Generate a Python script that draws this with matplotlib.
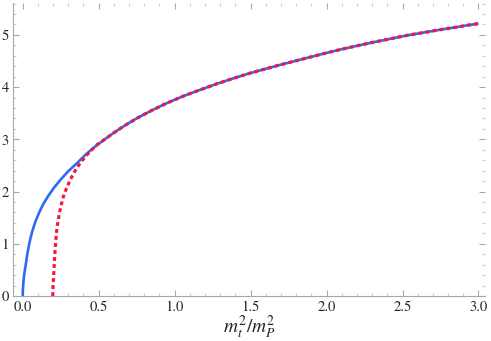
import numpy as np
import matplotlib
matplotlib.use('Agg')
import matplotlib.pyplot as plt
from matplotlib.ticker import MultipleLocator

# values
blue_x = [0.0, 0.001, 0.004, 0.01, 0.016, 0.022, 0.029, 0.037, 0.048, 0.063,
          0.083, 0.107, 0.135, 0.169, 0.205, 0.25, 0.30, 0.356, 0.415, 0.476,
          0.54, 0.6, 0.675, 0.75, 0.85, 0.95, 1.06, 1.17, 1.28, 1.39, 1.5,
          1.6, 1.7, 1.8, 1.9, 2.0, 2.1, 2.2, 2.31, 2.42, 2.53, 2.64, 2.75,
          2.86, 2.93, 3.0]
blue_y = [0.0, 0.12, 0.25, 0.42, 0.53, 0.64, 0.78, 0.91, 1.07, 1.24,
          1.42, 1.59, 1.76, 1.92, 2.07, 2.23, 2.39, 2.54, 2.71, 2.86,
          3.00, 3.125, 3.27, 3.40, 3.555, 3.695, 3.83, 3.95, 4.065, 4.17, 4.27,
          4.35, 4.43, 4.505, 4.58, 4.655, 4.725, 4.79, 4.86, 4.925, 4.99,
          5.045, 5.10, 5.15, 5.185, 5.215]

red_x = [0.198, 0.199, 0.202, 0.205, 0.208, 0.211, 0.215, 0.219, 0.224, 0.232,
         0.241, 0.253, 0.267, 0.288, 0.312, 0.343, 0.377, 0.415, 0.455, 0.49,
         0.54, 0.6, 0.675, 0.75, 0.85, 0.95, 1.06, 1.17, 1.28, 1.39, 1.5,
         1.6, 1.7, 1.8, 1.9, 2.0, 2.1, 2.2, 2.31, 2.42, 2.53, 2.64, 2.75,
         2.86, 2.93, 3.0]
red_y = [0.0, 0.15, 0.30, 0.47, 0.63, 0.79, 0.95, 1.10, 1.26, 1.42,
         1.58, 1.74, 1.90, 2.06, 2.22, 2.39, 2.54, 2.68, 2.80, 2.90,
         3.00, 3.125, 3.27, 3.40, 3.555, 3.695, 3.83, 3.95, 4.065, 4.17, 4.27,
         4.35, 4.43, 4.505, 4.58, 4.655, 4.725, 4.79, 4.86, 4.925, 4.99,
         5.045, 5.10, 5.15, 5.185, 5.215]

x_ticks = [0.0, 0.5, 1.0, 1.5, 2.0, 2.5, 3.0]
y_ticks = [0, 1, 2, 3, 4, 5]

plt.rcParams['font.family'] = ['STIXGeneral', 'Liberation Serif', 'DejaVu Serif']
plt.rcParams['mathtext.fontset'] = 'stix'

fig = plt.figure(figsize=(4.91, 3.41), dpi=100)
ax = fig.add_axes([13 / 491, 45 / 341, (485 - 13) / 491, (338 - 45) / 341])

ax.plot(blue_x, blue_y, color='#2d6bf5', lw=1.9, solid_capstyle='butt',
        solid_joinstyle='round')
ax.plot(red_x, red_y, color='#f5163d', lw=2.3, linestyle=(0, (1.2, 1.0)))

ax.set_xlim(-0.064, 3.043)
ax.set_ylim(0, 5.61)

ax.set_xticks(x_ticks)
ax.set_xticklabels(['%.1f' % v for v in x_ticks])
ax.set_yticks(y_ticks)
ax.xaxis.set_minor_locator(MultipleLocator(0.1))
ax.yaxis.set_minor_locator(MultipleLocator(0.2))

gray = '#a8a8a8'
for s in ['top', 'right']:
    ax.spines[s].set_visible(False)
for s in ['left', 'bottom']:
    ax.spines[s].set_color(gray)
    ax.spines[s].set_linewidth(0.8)

ax.tick_params(which='both', direction='in', top=True, right=True,
               color=gray, width=0.8, labelsize=10.5, labelcolor='#222222')
ax.tick_params(which='major', length=4)
ax.tick_params(which='minor', length=2.2, color='#cccccc')
ax.tick_params(axis='x', pad=3)
ax.tick_params(axis='y', pad=3)

ax.set_xlabel(r'$m_t^2/m_P^2$', fontsize=14, labelpad=0, color='#222222')

fig.savefig('out.png', dpi=100)
